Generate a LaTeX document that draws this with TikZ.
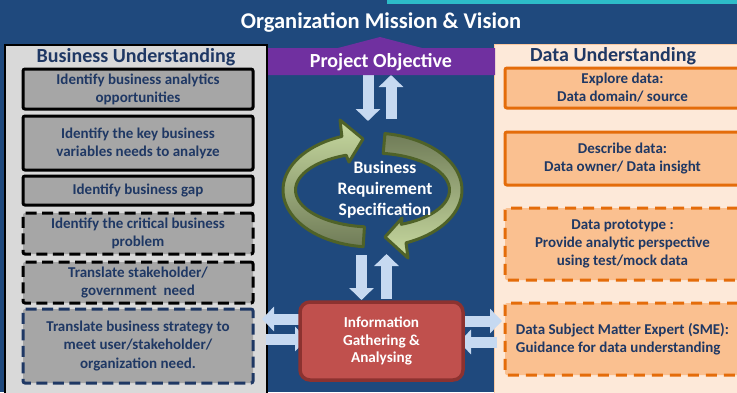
\documentclass[tikz,border=0pt]{standalone}
\usepackage{fontspec}
\setmainfont{Carlito}
\usetikzlibrary{arrows.meta}
\definecolor{bgblue}{RGB}{31,73,125}
\definecolor{teal1}{RGB}{45,188,200}
\definecolor{txtblue}{RGB}{31,56,100}
\definecolor{lpanel}{RGB}{217,217,217}
\definecolor{lboxfill}{RGB}{166,166,166}
\definecolor{rpanel}{RGB}{253,233,217}
\definecolor{rpanelline}{RGB}{250,200,160}
\definecolor{rboxfill}{RGB}{250,192,144}
\definecolor{rboxline}{RGB}{228,108,10}
\definecolor{purp}{RGB}{112,48,160}
\definecolor{lblue}{RGB}{198,217,241}
\definecolor{infored}{RGB}{192,80,77}
\definecolor{infoline}{RGB}{140,50,48}
\definecolor{ringline}{RGB}{79,98,40}
\definecolor{ringlight}{RGB}{200,218,160}
\definecolor{ringdark}{RGB}{112,124,88}
\begin{document}
\begin{tikzpicture}[x=1pt,y=-1pt,
  lbox/.style={draw=black, line width=3pt, fill=lboxfill, rounded corners=2pt,
    minimum width=230pt, inner sep=0pt, align=center, text=txtblue,
    font=\fontsize{15}{18}\selectfont\bfseries},
  lboxd/.style={lbox, dash pattern=on 11pt off 5.5pt},
  rbox/.style={draw=rboxline, line width=3pt, fill=rboxfill, rounded corners=2pt,
    minimum width=235pt, inner sep=0pt, align=center, text=txtblue,
    font=\fontsize{15}{18}\selectfont\bfseries},
  rboxd/.style={rbox, dash pattern=on 11pt off 7pt},
  ptitle/.style={text=txtblue, font=\fontsize{20}{24}\selectfont\bfseries, inner sep=0pt},
  barrow/.style={draw=lblue, line width=11pt, -{Triangle[width=24pt,length=12pt]}},
  ringarrow/.style={draw=ringline, line width=3pt, line join=round},
]
\useasboundingbox (0,0) rectangle (737,392);
\clip (0,0) rectangle (737,392);
\fill[bgblue] (0,0) rectangle (737,392);
\fill[teal1] (387,0) rectangle (737,3.5);

% title
\node[text=white, font=\fontsize{22.5}{26}\selectfont\bfseries, inner sep=0pt] (title) at (381,22) {Organization Mission \& Vision};

% panels
\draw[black, line width=2pt, fill=lpanel] (5,44.5) rectangle (267,400);
\draw[rpanelline, line width=1pt, fill=rpanel] (494,44.5) rectangle (745,400);

\node[ptitle] (lt) at (136,57) {Business Understanding};
\node[ptitle] (rt) at (613,56) {Data Understanding};

% left boxes
\node[lbox, minimum height=40pt] (l1) at (138,89) {Identify business analytics\\opportunities};
\node[lbox, minimum height=54pt] (l2) at (138,143) {Identify the key business\\variables needs to analyze};
\node[lbox, minimum height=29pt] (l3) at (138,190.5) {Identify business gap};
\node[lboxd, minimum height=41pt] (l4) at (138,233.5) {Identify the critical business\\problem};
\node[lboxd, minimum height=41pt] (l5) at (138,282.5) {Translate stakeholder/\\government~ need};
\node[lboxd, draw=txtblue, minimum height=74pt] (l6) at (138,346) {Translate business strategy to\\meet user/stakeholder/\\organization need.};

% right boxes
\node[rbox, minimum height=40pt] (r1) at (622.5,88) {Explore data:\\Data domain/ source};
\node[rbox, minimum height=53pt] (r2) at (622.5,158.5) {Describe data:\\Data owner/ Data insight};
\node[rboxd, minimum height=72pt] (r3) at (622.5,244) {Data prototype :\\Provide analytic perspective\\using test/mock data};
\node[rboxd, minimum height=72pt, align=left] (r4) at (622.5,339) {Data Subject Matter Expert (SME):\\Guidance for data understanding};

% coordinates for block arrows
\coordinate (a1s) at (368,75);   \coordinate (a1e) at (368,121);
\coordinate (a2s) at (391,119);  \coordinate (a2e) at (391,75);
\coordinate (a3s) at (361.5,255); \coordinate (a3e) at (361.5,300);
\coordinate (a4s) at (386.5,299); \coordinate (a4e) at (386.5,254);
\coordinate (a5s) at (305,319);  \coordinate (a5e) at (262,319);
\coordinate (a6s) at (266,339);  \coordinate (a6e) at (307,339);
\coordinate (a7s) at (458,321);  \coordinate (a7e) at (502,321);
\coordinate (a8s) at (497,342);  \coordinate (a8e) at (459,342);

\draw[barrow] (a1s) -- (a1e);
\draw[barrow] (a2s) -- (a2e);
\draw[barrow] (a3s) -- (a3e);
\draw[barrow] (a4s) -- (a4e);
\draw[barrow] (a5s) -- (a5e);
\draw[barrow] (a6s) -- (a6e);
\draw[barrow] (a7s) -- (a7e);
\draw[barrow] (a8s) -- (a8e);

% project objective banner
\fill[purp] (268,48) -- (338,48) -- (380,37) -- (422,48) -- (495,48) -- (495,75) -- (268,75) -- cycle;
\node[text=white, font=\fontsize{20}{24}\selectfont\bfseries, inner sep=0pt] (po) at (381,62) {Project Objective};

% cycle arrows
\draw[ringarrow, top color=ringlight, bottom color=ringdark]
  plot[domain=96:250, samples=40] ({372.5+89.5*cos(\x)},{190+57*sin(\x)})
  -- (340,120) -- (363,139) -- (349,162)
  -- plot[domain=250:96, samples=40] ({372.5+77*cos(\x)},{190+37*sin(\x)}) -- cycle;
\draw[ringarrow, top color=ringdark, bottom color=ringlight]
  plot[domain=278:428, samples=40] ({372.5+89.5*cos(\x)},{190+57*sin(\x)})
  -- (408,258) -- (385,237) -- (402,218)
  -- plot[domain=428:278, samples=40] ({372.5+77*cos(\x)},{190+37*sin(\x)}) -- cycle;

\node[text=white, align=center, font=\fontsize{17.5}{21}\selectfont\bfseries, inner sep=0pt] (brs) at (385,190) {Business\\Requirement\\Specification};

% information box
\node[draw=infoline, line width=3.5pt, fill=infored, rounded corners=10pt,
  minimum width=163pt, minimum height=78pt, inner sep=0pt, align=center,
  text=white, font=\fontsize{15.2}{17.5}\selectfont\bfseries] (info) at (381.5,341)
  {Information\\Gathering \&\\Analysing};
\end{tikzpicture}
\end{document}
